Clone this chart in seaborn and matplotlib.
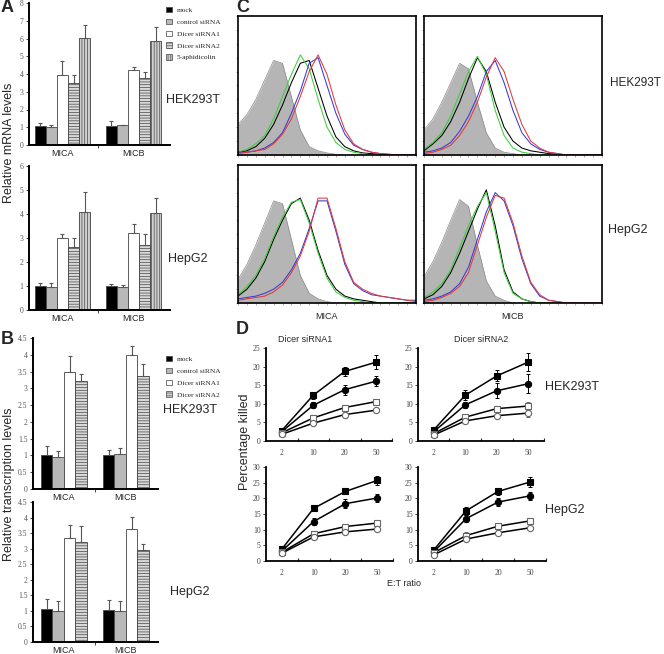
"""
Dicer knockdown / MICA-MICB figure: bar charts, flow histograms and killing curves.
"""
import numpy as np
import pandas as pd
import matplotlib
matplotlib.use("Agg")
import matplotlib.pyplot as plt
import matplotlib.ticker as ticker
from matplotlib.patches import Patch
import seaborn as sns

W, H = 664, 654

# ---- panel A / B : relative levels (rows = treatment, cols = MICA, MICB)
genes = ['MICA', 'MICB']
a_treatments = ['mock', 'control siRNA', 'Dicer siRNA1', 'Dicer siRNA2', '5-aphidicolin']
b_treatments = ['mock', 'control siRNA', 'Dicer siRNA1', 'Dicer siRNA2']

a_hek_mean = [[1.05, 1.05], [1.00, 1.10], [3.95, 4.20], [3.52, 3.80], [6.05, 5.85]]
a_hek_err = [[0.17, 0.30], [0.10, 0.05], [0.80, 0.20], [0.40, 0.30], [0.70, 0.80]]
a_hep_mean = [[1.00, 1.00], [0.97, 0.97], [3.02, 3.20], [2.62, 2.70], [4.10, 4.05]]
a_hep_err = [[0.13, 0.08], [0.15, 0.08], [0.13, 0.38], [0.38, 0.48], [0.80, 0.62]]

b_hek_mean = [[1.02, 1.00], [0.96, 1.03], [3.50, 4.00], [3.22, 3.37]]
b_hek_err = [[0.26, 0.17], [0.18, 0.18], [0.45, 0.25], [0.22, 0.35]]
b_hep_mean = [[1.05, 1.03], [1.00, 1.00], [3.35, 3.63], [3.20, 2.97]]
b_hep_err = [[0.32, 0.32], [0.32, 0.32], [0.42, 0.40], [0.52, 0.18]]

# ---- panel C : flow histograms (fraction of box height per channel)
fl_channel = list(range(0, 101, 5))
hek_mica = {
    'iso': [.22, .29, .40, .54, .68, .66, .42, .18, .06, .03, .015, .005, 0, 0, 0, 0, 0, 0, 0, 0, 0],
    'black': [.02, .03, .06, .12, .22, .36, .52, .66, .68, .48, .28, .13, .06, .03, .015, .01, .005, 0, 0, 0, 0],
    'green': [.02, .04, .08, .14, .26, .42, .58, .72, .62, .40, .20, .09, .04, .02, .01, 0, 0, 0, 0, 0, 0],
    'blue': [.02, .02, .03, .05, .09, .16, .30, .46, .66, .70, .50, .30, .15, .07, .04, .02, .01, .005, 0, 0, 0],
    'red': [.01, .02, .03, .04, .08, .15, .26, .42, .60, .72, .58, .36, .18, .08, .04, .02, .01, .005, 0, 0, 0],
}
hek_micb = {
    'iso': [.18, .26, .38, .52, .66, .62, .38, .16, .05, .02, .01, 0, 0, 0, 0, 0, 0, 0, 0, 0, 0],
    'black': [.03, .08, .14, .24, .38, .55, .70, .60, .38, .20, .10, .05, .03, .02, .01, .005, 0, 0, 0, 0, 0],
    'green': [.04, .09, .16, .28, .44, .60, .71, .58, .32, .14, .05, .02, .01, 0, 0, 0, 0, 0, 0, 0, 0],
    'blue': [.02, .03, .05, .09, .17, .28, .42, .60, .68, .52, .32, .16, .08, .04, .02, .01, 0, 0, 0, 0, 0],
    'red': [.01, .02, .04, .07, .14, .24, .38, .56, .70, .60, .40, .22, .10, .05, .02, .01, 0, 0, 0, 0, 0],
}
hep_mica = {
    'iso': [.17, .28, .42, .58, .74, .72, .46, .20, .07, .03, .01, 0, 0, 0, 0, 0, 0, 0, 0, 0, 0],
    'black': [.05, .10, .18, .30, .46, .60, .72, .76, .60, .38, .20, .10, .05, .03, .02, .01, 0, 0, 0, 0, 0],
    'green': [.06, .12, .20, .32, .48, .62, .73, .75, .58, .36, .18, .08, .04, .02, .01, 0, 0, 0, 0, 0, 0],
    'blue': [.03, .04, .05, .07, .10, .15, .24, .36, .54, .74, .74, .52, .28, .14, .09, .06, .05, .04, .03, .02, .02],
    'red': [.02, .03, .04, .05, .08, .13, .22, .34, .52, .76, .76, .54, .30, .15, .10, .07, .05, .04, .03, .02, .01],
}
hep_micb = {
    'iso': [.19, .30, .44, .60, .75, .70, .42, .16, .05, .02, 0, 0, 0, 0, 0, 0, 0, 0, 0, 0, 0],
    'black': [.03, .06, .12, .22, .36, .52, .68, .82, .56, .24, .08, .03, .01, 0, 0, 0, 0, 0, 0, 0, 0],
    'green': [.04, .08, .14, .24, .40, .56, .70, .80, .52, .22, .07, .03, .01, 0, 0, 0, 0, 0, 0, 0, 0],
    'blue': [.02, .03, .05, .08, .14, .26, .46, .66, .80, .74, .56, .32, .14, .05, .02, .01, 0, 0, 0, 0, 0],
    'red': [.01, .02, .04, .07, .12, .22, .42, .62, .78, .76, .58, .34, .15, .06, .02, .01, 0, 0, 0, 0, 0],
}

# ---- panel D : percentage killed (rows: filled sq, filled circle, open sq, open circle)
et_ratios = ['2', '10', '20', '50']
kill_hek_si1_mean = [[2.8, 12.3, 18.7, 21.2], [2.5, 9.6, 13.8, 16.1], [2.2, 6.2, 9.0, 10.6], [1.8, 4.8, 7.1, 8.3]]
kill_hek_si1_err = [[0.4, 1.0, 1.2, 1.8], [0.4, 0.8, 1.3, 1.3], [0.3, 0.5, 0.5, 0.8], [0.3, 0.5, 0.8, 0.6]]
kill_hek_si2_mean = [[3.0, 12.3, 17.5, 21.2], [2.5, 9.7, 13.5, 15.4], [2.0, 6.4, 8.7, 9.4], [1.6, 5.4, 6.8, 7.5]]
kill_hek_si2_err = [[0.4, 1.3, 1.5, 2.5], [0.4, 0.8, 2.0, 2.5], [0.3, 0.6, 0.7, 1.0], [0.3, 0.5, 0.5, 1.0]]
kill_hep_si1_mean = [[3.8, 16.8, 22.2, 25.7], [3.2, 12.6, 18.3, 20.1], [2.8, 8.7, 11.0, 12.1], [2.5, 7.7, 9.3, 10.2]]
kill_hep_si1_err = [[0.5, 1.0, 0.7, 1.5], [0.4, 1.0, 1.5, 1.3], [0.4, 1.0, 0.8, 0.8], [0.4, 0.6, 0.6, 0.5]]
kill_hep_si2_mean = [[3.6, 16.0, 22.2, 25.2], [3.0, 13.5, 18.8, 20.8], [2.7, 8.1, 11.1, 12.8], [2.0, 7.0, 9.0, 10.6]]
kill_hep_si2_err = [[0.5, 1.2, 1.0, 1.5], [0.5, 1.2, 1.3, 1.3], [0.5, 1.0, 1.0, 0.7], [0.6, 0.6, 0.8, 0.6]]

# styles
bar_fc = {'mock': 'black', 'control siRNA': '#b8b8b8', 'Dicer siRNA1': 'white',
          'Dicer siRNA2': '#d9d9d9', '5-aphidicolin': '#d0d0d0'}
bar_hatch = {'mock': '', 'control siRNA': '', 'Dicer siRNA1': '',
             'Dicer siRNA2': '------', '5-aphidicolin': '||||||'}
kill_markers = [('s', 'black', 'black'), ('o', 'black', 'black'),
                ('s', 'white', '#666666'), ('o', 'white', '#666666')]
flow_colors = {'black': 'black', 'green': '#3ccf3c', 'blue': '#3a3ad6', 'red': '#e03a3a'}

sns.set_style('ticks')
plt.rcParams['font.family'] = ['Liberation Sans', 'DejaVu Sans']
plt.rcParams['hatch.linewidth'] = 0.5
SERIF = ['Liberation Serif', 'DejaVu Serif']

fig = plt.figure(figsize=(W / 100, H / 100), dpi=100)


def px_axes(left, top, right, bottom):
    return fig.add_axes([left / W, 1 - bottom / H, (right - left) / W, (bottom - top) / H])


def ftext(x, y, s, **kw):
    fig.text(x / W, 1 - y / H, s, **kw)


def bar_panel(ax, mean, err, treatments, ymax, step, width, xlim):
    rows = []
    for t, m in zip(treatments, mean):
        for g, v in zip(genes, m):
            rows.append({'gene': g, 'treatment': t, 'value': v})
    df = pd.DataFrame(rows)
    sns.barplot(data=df, x='gene', y='value', hue='treatment', hue_order=treatments,
                palette=[bar_fc[t] for t in treatments], saturation=1, width=width,
                errorbar=None, edgecolor='#444444', linewidth=0.6, legend=False, ax=ax)
    for cont, t, e in zip(ax.containers, treatments, err):
        xs = [p.get_x() + p.get_width() / 2 for p in cont]
        hs = [p.get_height() for p in cont]
        for p in cont:
            p.set_hatch(bar_hatch[t])
        ax.errorbar(xs, hs, yerr=[np.zeros(len(e)), e], fmt='none', ecolor='#555555',
                    elinewidth=0.8, capsize=1.5, capthick=0.8, zorder=1)
    ax.set_xlim(*xlim)
    ax.set_ylim(0, ymax)
    ax.set_yticks(np.arange(0, ymax + 0.001, step))
    ax.yaxis.set_major_formatter(ticker.FuncFormatter(lambda v, _: f'{v:g}'))
    ax.set_xticks([0.5], minor=True)
    ax.set_xlabel('')
    ax.set_ylabel('')
    sns.despine(ax=ax)
    for s in ('left', 'bottom'):
        ax.spines[s].set_linewidth(1.4)
        ax.spines[s].set_color('black')
    ax.tick_params(axis='y', labelsize=5.5, labelcolor='#555555', length=2, width=0.6, pad=2)
    ax.tick_params(axis='x', which='major', length=0, labelsize=6.5, pad=3)
    ax.tick_params(axis='x', which='minor', length=2.5, width=0.6)
    for lab in ax.get_yticklabels():
        lab.set_family(SERIF)


def flow_panel(ax, curves):
    ax.fill_between(fl_channel, curves['iso'], color='#b5b5b5', lw=0)
    sns.lineplot(x=fl_channel, y=curves['iso'], color='#8a8a8a', lw=0.5, ax=ax)
    for key in ('black', 'green', 'blue', 'red'):
        sns.lineplot(x=fl_channel, y=curves[key], color=flow_colors[key], lw=0.75, ax=ax)
    ax.set_xlim(0, 100)
    ax.set_ylim(0, 1)
    for s in ax.spines.values():
        s.set_linewidth(1.2)
        s.set_color('black')
    ax.set_xticks(np.arange(0, 101, 5))
    ax.set_yticks(np.arange(0, 1.01, 0.1))
    ax.tick_params(length=1.5, width=0.5, color='#888888', labelbottom=False, labelleft=False)


def kill_panel(ax, mean, err, ymax):
    pos = np.arange(len(et_ratios))
    for (mk, fc, ec), m, e in zip(kill_markers, mean, err):
        ax.errorbar(pos, m, yerr=e, fmt='none', ecolor=ec, elinewidth=0.7,
                    capsize=1.5, capthick=0.7, zorder=2)
        sns.lineplot(x=pos, y=m, color='black', lw=1.1, marker=mk, markersize=4.5,
                     markerfacecolor=fc, markeredgecolor=ec, markeredgewidth=0.8, ax=ax, zorder=3)
    ax.set_xlim(-0.5, 3.5)
    ax.set_ylim(0, ymax)
    ax.set_yticks(np.arange(0, ymax + 0.1, 5))
    ax.set_xticks(pos, et_ratios)
    ax.set_xticks([0.5, 1.5, 2.5, 3.5], minor=True)
    sns.despine(ax=ax)
    for s in ('left', 'bottom'):
        ax.spines[s].set_linewidth(1.3)
        ax.spines[s].set_color('black')
    ax.tick_params(axis='x', which='major', length=0, labelsize=5.5, labelcolor='#444444', pad=6)
    ax.tick_params(axis='x', which='minor', direction='in', length=2.5, width=0.8)
    ax.tick_params(axis='y', labelsize=5.5, labelcolor='#444444', length=2, width=0.6, pad=2)
    for lab in ax.get_xticklabels() + ax.get_yticklabels():
        lab.set_family(SERIF)


# ---------------- A
ax = px_axes(29, 3, 170, 145)
bar_panel(ax, a_hek_mean, a_hek_err, a_treatments, 8, 1, 0.78, (-0.47, 1.51))
ax = px_axes(29, 166, 170, 310)
bar_panel(ax, a_hep_mean, a_hep_err, a_treatments, 6, 1, 0.78, (-0.47, 1.51))

# ---------------- B
ax = px_axes(33, 338, 158, 489)
bar_panel(ax, b_hek_mean, b_hek_err, b_treatments, 4.5, 0.5, 0.74, (-0.5, 1.52))
ax = px_axes(33, 502, 158, 642)
bar_panel(ax, b_hep_mean, b_hep_err, b_treatments, 4.5, 0.5, 0.74, (-0.5, 1.52))

for treatments, top in ((a_treatments, 7), (b_treatments, 356)):
    handles = [Patch(facecolor=bar_fc[t], edgecolor='#444444', hatch=bar_hatch[t], lw=0.5)
               for t in treatments]
    fig.legend(handles, treatments, loc='upper left', bbox_to_anchor=(166 / W, 1 - top / H),
               frameon=False, prop={'family': SERIF, 'size': 5.3}, handlelength=0.75,
               handleheight=0.75, handletextpad=0.7, labelspacing=0.75, borderaxespad=0,
               borderpad=0)

# ---------------- C
flow_panel(px_axes(238, 16, 416, 155), hek_mica)
flow_panel(px_axes(424, 16, 602, 155), hek_micb)
flow_panel(px_axes(238, 165, 416, 303), hep_mica)
flow_panel(px_axes(424, 165, 602, 303), hep_micb)

# ---------------- D
kill_panel(px_axes(266, 348, 392, 441), kill_hek_si1_mean, kill_hek_si1_err, 25)
kill_panel(px_axes(418, 348, 544, 441), kill_hek_si2_mean, kill_hek_si2_err, 25)
kill_panel(px_axes(266, 467, 393, 561), kill_hep_si1_mean, kill_hep_si1_err, 30)
kill_panel(px_axes(418, 467, 546, 561), kill_hep_si2_mean, kill_hep_si2_err, 30)

# ---------------- text
for letter, x, y in (('A', 1, 8), ('B', 1, 340), ('C', 236, 8), ('D', 236, 330)):
    ftext(x, y, letter, fontsize=13, fontweight='bold', va='center', ha='left')

ftext(9, 143, 'Relative mRNA levels', rotation=90, fontsize=9, va='center', ha='center')
ftext(9, 484, 'Relative transcription levels', rotation=90, fontsize=9, va='center', ha='center')
ftext(245, 442, 'Percentage killed', rotation=90, fontsize=9, va='center', ha='center')

for s, x, y in (('HEK293T', 166, 100), ('HepG2', 168, 259), ('HEK293T', 163, 410),
                ('HepG2', 170, 592), ('HepG2', 608, 230),
                ('HEK293T', 545, 387), ('HepG2', 545, 510)):
    ftext(x, y, s, fontsize=9, va='center', ha='left')
ftext(661, 83, 'HEK293T', fontsize=8.5, va='center', ha='right')

ftext(327, 316, 'MICA', fontsize=6.5, ha='center', va='center')
ftext(513, 316, 'MICB', fontsize=6.5, ha='center', va='center')
ftext(305, 340, 'Dicer siRNA1', fontsize=6.5, ha='center', va='center')
ftext(481, 340, 'Dicer siRNA2', fontsize=6.5, ha='center', va='center')
ftext(404, 584, 'E:T ratio', fontsize=6.5, ha='center', va='center')

fig.savefig('out.png', dpi=100, facecolor='white')
plt.close(fig)
